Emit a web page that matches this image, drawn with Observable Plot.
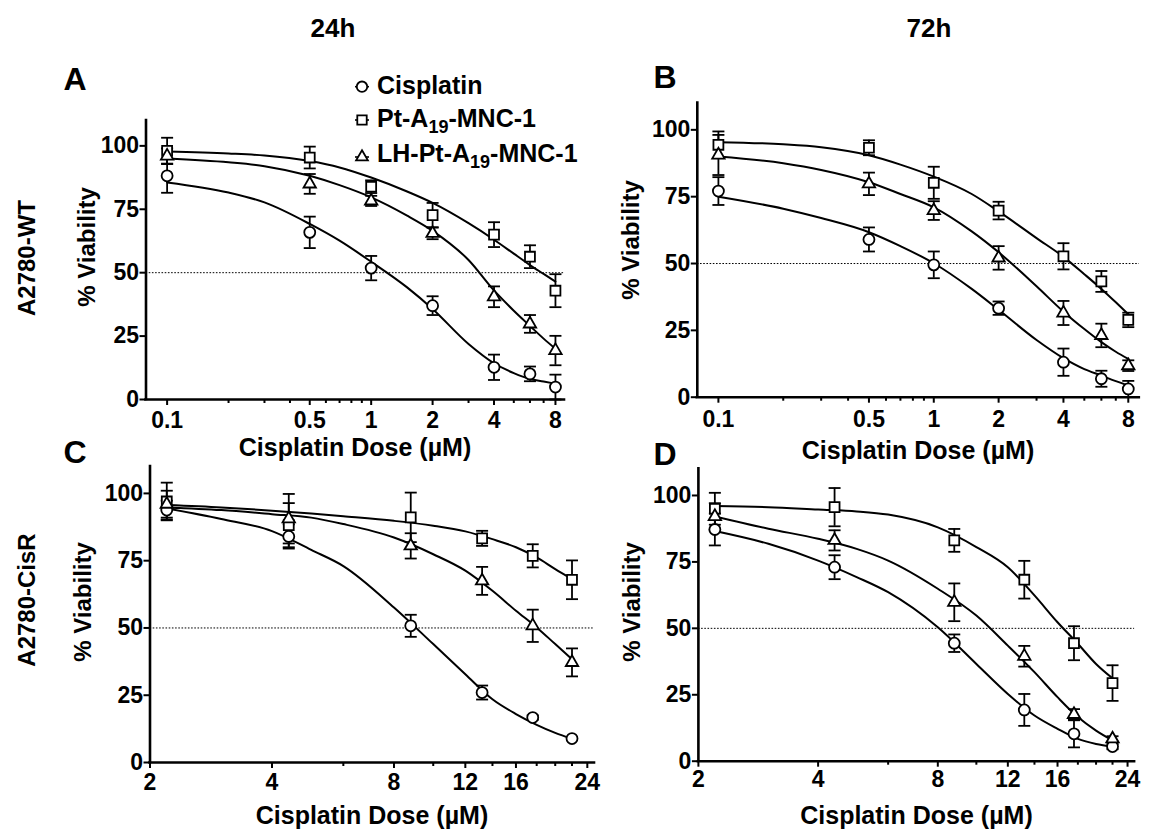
<!DOCTYPE html>
<html>
<head>
<meta charset="utf-8">
<script src="https://cdn.jsdelivr.net/npm/d3@7"></script>
<script src="https://cdn.jsdelivr.net/npm/@observablehq/plot@0.6"></script>
<style>
  html, body { margin: 0; padding: 0; background: #fff; }
  #page { position: relative; width: 1149px; height: 830px; overflow: hidden; background: #fff; }
  .panel { position: absolute; }
  #overlay { position: absolute; left: 0; top: 0; pointer-events: none; }
</style>
</head>
<body>
<div id="page"></div>
<script>
// ---------------- DATA ----------------
const compounds = ["Cisplatin", "Pt-A19-MNC-1", "LH-Pt-A19-MNC-1"];
const doseWT = [0.1, 0.5, 1, 2, 4, 6, 8];
const doseCisR = [2.2, 4.4, 8.8, 13.2, 17.6, 22];
const fitDoseWT = [0.1, 0.2, 0.3, 0.5, 0.7, 1, 1.5, 2, 3, 4, 5, 6, 7, 8];
const fitDoseCisR = [2.2, 3, 4, 5, 6, 8, 10, 12, 14, 16, 18, 20, 22];
const ticksWT = [0.1, 0.5, 1, 2, 4, 8];
const minorWT = [0.2, 0.3, 0.4, 0.6, 0.7, 0.8, 0.9, 3, 5, 6, 7];
const ticksCisR = [2, 4, 8, 12, 16, 24];
const minorCisR = [6, 10, 14, 18, 20, 22];
const ticksViability = [0, 25, 50, 75, 100];

// Panel A: A2780-WT, 24h
const A_cis = [88.2, 65.9, 51.8, 37.0, 12.7, 10.1, 4.9];
const A_cisSD = [6.7, 6.2, 4.8, 3.7, 5.0, 2.9, 4.9];
const A_pt = [98.0, 95.4, 83.9, 72.7, 65.0, 56.3, 42.9];
const A_ptSD = [5.2, 4.3, 2.5, 4.8, 4.9, 4.5, 6.5];
const A_lh = [96.0, 85.0, 78.3, 65.5, 40.5, 29.8, 19.3];
const A_lhSD = [3.0, 3.9, 2.0, 2.3, 4.1, 3.5, 5.8];
const A_cisFit = [85.6, 81.6, 77.7, 69.2, 62.6, 54.3, 44.2, 35.7, 21.9, 14.3, 10.4, 8.1, 7.1, 6.2];
const A_ptFit = [97.8, 97.0, 96.2, 94.0, 91.5, 87.5, 82.0, 77.5, 69.5, 63.0, 57.5, 53.0, 49.5, 46.5];
const A_lhFit = [95.0, 93.5, 92.0, 88.2, 84.5, 79.7, 72.5, 66.5, 55.0, 43.0, 35.0, 29.0, 24.0, 20.0];

// Panel B: A2780-WT, 72h
const B_cis = [77.1, 59.0, 49.5, 33.3, 13.1, 6.9, 3.1];
const B_cisSD = [5.2, 4.5, 5.0, 2.5, 5.1, 3.0, 3.0];
const B_pt = [94.4, 93.3, 80.2, 69.8, 52.7, 43.3, 28.9];
const B_ptSD = [5.0, 2.8, 6.0, 3.3, 4.9, 3.9, 2.7];
const B_lh = [90.6, 79.8, 69.8, 52.1, 31.5, 23.1, 11.8];
const B_lhSD = [7.5, 4.2, 3.5, 4.4, 4.5, 4.4, 2.0];
const B_cisFit = [75.0, 70.5, 67.0, 61.7, 56.5, 50.1, 40.5, 32.7, 21.4, 14.6, 10.5, 8.1, 6.0, 4.4];
const B_ptFit = [95.4, 94.6, 93.5, 90.5, 87.0, 82.5, 76.0, 69.5, 59.5, 52.5, 46.0, 40.5, 35.5, 31.0];
const B_lhFit = [90.0, 87.5, 85.0, 80.4, 76.0, 71.0, 62.0, 54.2, 41.5, 32.0, 25.5, 20.6, 17.0, 14.3];

// Panel C: A2780-CisR, 24h
const C_cis = [93.8, 84.0, 50.8, 26.0, 16.7, 8.9];
const C_cisSD = [3.5, 4.5, 4.1, 2.6, 0.8, 0.6];
const C_pt = [97.0, 88.2, 91.1, 83.3, 76.8, 67.9];
const C_ptSD = [7.0, 8.2, 9.2, 2.8, 4.3, 7.2];
const C_lh = [96.0, 90.6, 80.5, 67.5, 50.8, 37.2];
const C_lhSD = [5.0, 9.2, 4.7, 5.2, 6.0, 5.2];
const C_cisFit = [94.4, 90.5, 86.0, 79.0, 73.0, 57.6, 44.0, 32.8, 23.5, 18.0, 14.0, 11.0, 8.8];
const C_ptFit = [95.7, 94.8, 93.6, 92.5, 91.5, 89.8, 88.0, 85.9, 83.0, 80.0, 76.2, 71.9, 68.2];
const C_lhFit = [94.8, 93.8, 92.3, 91.0, 88.6, 83.6, 77.4, 71.3, 63.8, 56.4, 50.2, 44.0, 38.4];

// Panel D: A2780-CisR, 72h
const D_cis = [87.2, 73.0, 44.4, 19.3, 10.3, 5.5];
const D_cisSD = [6.0, 4.5, 3.3, 6.0, 5.1, 1.0];
const D_pt = [95.0, 95.6, 83.1, 68.3, 44.4, 29.4];
const D_ptSD = [6.0, 7.2, 4.3, 7.1, 6.4, 6.7];
const D_lh = [92.1, 83.1, 59.8, 39.5, 17.6, 8.4];
const D_lhSD = [5.0, 3.8, 7.1, 3.9, 2.0, 1.0];
const D_cisFit = [86.6, 81.8, 75.5, 69.3, 63.6, 50.4, 36.6, 25.3, 17.2, 12.2, 8.4, 6.5, 5.5];
const D_ptFit = [96.0, 95.6, 94.7, 94.0, 92.8, 88.0, 80.6, 73.0, 62.4, 52.3, 44.2, 36.6, 31.2];
const D_lhFit = [92.1, 87.5, 83.7, 79.9, 75.5, 64.9, 54.8, 43.5, 33.5, 24.1, 16.6, 11.5, 7.8];

// ---------------- LAYOUT / STYLE ----------------
const FONT = '"Liberation Sans", Arial, Helvetica, sans-serif';
const TICK_FONT = 23;
const symbolOf = {"Cisplatin": "circle", "Pt-A19-MNC-1": "square", "LH-Pt-A19-MNC-1": "triangle"};
const radiusOf = {"Cisplatin": 5.5, "Pt-A19-MNC-1": 5.6, "LH-Pt-A19-MNC-1": 4.6};
const capSymbol = {draw(ctx) { ctx.moveTo(-6, 0); ctx.lineTo(6, 0); }};

const panels = [
  {means: [A_cis, A_pt, A_lh], sds: [A_cisSD, A_ptSD, A_lhSD], fits: [A_cisFit, A_ptFit, A_lhFit],
   dose: doseWT, fitDose: fitDoseWT, ticks: ticksWT, minor: minorWT,
   layout: {left: 0, top: 0, width: 580, height: 470, ml: 145.5, mr: 16, mt: 120, mb: 71, xDomain: [0.0788, 8.86], tp: 6.5}},
  {means: [B_cis, B_pt, B_lh], sds: [B_cisSD, B_ptSD, B_lhSD], fits: [B_cisFit, B_ptFit, B_lhFit],
   dose: doseWT, fitDose: fitDoseWT, ticks: ticksWT, minor: minorWT,
   layout: {left: 580, top: 0, width: 569, height: 470, ml: 116.8, mr: 10.2, mt: 102.6, mb: 73.3, xDomain: [0.0798, 9.0], tp: 7}},
  {means: [C_cis, C_pt, C_lh], sds: [C_cisSD, C_ptSD, C_lhSD], fits: [C_cisFit, C_ptFit, C_lhFit],
   dose: doseCisR, fitDose: fitDoseCisR, ticks: ticksCisR, minor: minorCisR,
   layout: {left: 0, top: 440, width: 600, height: 390, ml: 149.5, mr: 6, mt: 26, mb: 68, xDomain: [2, 25], tp: 5}},
  {means: [D_cis, D_pt, D_lh], sds: [D_cisSD, D_ptSD, D_lhSD], fits: [D_cisFit, D_ptFit, D_lhFit],
   dose: doseCisR, fitDose: fitDoseCisR, ticks: ticksCisR, minor: minorCisR,
   layout: {left: 580, top: 440, width: 569, height: 390, ml: 117.9, mr: 14.9, mt: 28.4, mb: 69.3, xDomain: [2, 25], tp: 3}}
];

function makePanel(p) {
  const L = p.layout;
  const pts = compounds.flatMap((c, i) => p.dose.map((d, j) => ({compound: c, dose: d, v: p.means[i][j], e: p.sds[i][j]})));
  const fit = compounds.flatMap((c, i) => p.fitDose.map((d, j) => ({compound: c, dose: d, v: p.fits[i][j]})));
  const caps = pts.flatMap(d => [{dose: d.dose, y: d.v - d.e}, {dose: d.dose, y: d.v + d.e}]);
  const dotMarks = compounds.map(c => Plot.dot(pts.filter(d => d.compound === c), {
    x: "dose", y: "v", symbol: symbolOf[c], r: radiusOf[c], fill: "white", stroke: "black", strokeWidth: 1.8
  }));
  return Plot.plot({
    width: L.width, height: L.height,
    marginLeft: L.ml, marginRight: L.mr, marginTop: L.mt, marginBottom: L.mb,
    x: {type: "log", domain: L.xDomain},
    y: {domain: [0, 110]},
    style: {background: "transparent", fontFamily: FONT, fontSize: TICK_FONT + "px", fontWeight: "bold", color: "black", overflow: "visible", maxWidth: "none"},
    marks: [
      Plot.ruleY([50], {stroke: "black", strokeWidth: 1, strokeDasharray: "1.6,1.6"}),
      Plot.line(fit, {x: "dose", y: "v", z: "compound", curve: "monotone-x", stroke: "black", strokeWidth: 2}),
      Plot.ruleX(pts, {x: "dose", y1: d => d.v - d.e, y2: d => d.v + d.e, stroke: "black", strokeWidth: 1.8}),
      Plot.dot(caps, {x: "dose", y: "y", symbol: capSymbol, fill: "none", stroke: "black", strokeWidth: 1.8}),
      ...dotMarks,
      Plot.ruleY([0], {stroke: "black", strokeWidth: 2.6, strokeLinecap: "square"}),
      Plot.ruleX([L.xDomain[0]], {stroke: "black", strokeWidth: 2.6, strokeLinecap: "square"}),
      Plot.axisY(ticksViability, {tickSize: 6, tickPadding: 1, strokeWidth: 2, tickFormat: d => String(d), label: null}),
      Plot.axisX(p.ticks, {tickSize: 6, strokeWidth: 2, fill: "none", label: null}),
      Plot.axisX(p.minor, {tickSize: 4, strokeWidth: 2, fill: "none", label: null}),
      Plot.text(p.ticks, {x: d => d, frameAnchor: "bottom", lineAnchor: "top", dy: 6 + L.tp,
        text: d => String(d), fontSize: TICK_FONT, fontWeight: "bold", fill: "black"})
    ]
  });
}

const page = document.getElementById("page");
for (const p of panels) {
  const svg = makePanel(p);
  svg.classList.add("panel");
  svg.style.left = p.layout.left + "px";
  svg.style.top = p.layout.top + "px";
  page.appendChild(svg);
}

// ---------------- ANNOTATIONS ----------------
const headers = [{text: "24h", x: 333, y: 37}, {text: "72h", x: 929, y: 37}];
const letters = [{text: "A", x: 75, y: 90}, {text: "B", x: 665, y: 88}, {text: "C", x: 75, y: 463}, {text: "D", x: 665, y: 465}];
const rowLabels = [{text: "A2780-WT", x: 35, y: 258}, {text: "A2780-CisR", x: 35, y: 600}];
const yTitles = [{x: 94.5, y: 247}, {x: 639, y: 240}, {x: 91, y: 602}, {x: 639.5, y: 602}];
const xTitles = [{x: 355, y: 456}, {x: 918, y: 459}, {x: 372, y: 824}, {x: 916.5, y: 824}];
const legendRows = [
  {compound: "Cisplatin", sy: 86.7, ty: 94},
  {compound: "Pt-A19-MNC-1", sy: 120, ty: 127},
  {compound: "LH-Pt-A19-MNC-1", sy: 157, ty: 161.5}
];

const ov = d3.select(page).append("svg").attr("id", "overlay")
  .attr("width", 1149).attr("height", 830)
  .attr("font-family", FONT).attr("font-weight", "bold").attr("fill", "black");

ov.selectAll(".hdr").data(headers).join("text").attr("class", "hdr")
  .attr("x", d => d.x).attr("y", d => d.y).attr("font-size", 26).attr("text-anchor", "middle").text(d => d.text);
ov.selectAll(".ltr").data(letters).join("text").attr("class", "ltr")
  .attr("x", d => d.x).attr("y", d => d.y).attr("font-size", 32).attr("text-anchor", "middle").text(d => d.text);
ov.selectAll(".row").data(rowLabels).join("text").attr("class", "row")
  .attr("transform", d => `translate(${d.x},${d.y}) rotate(-90)`).attr("font-size", 24).attr("text-anchor", "middle").text(d => d.text);
ov.selectAll(".yt").data(yTitles).join("text").attr("class", "yt")
  .attr("transform", d => `translate(${d.x},${d.y}) rotate(-90)`).attr("font-size", 24).attr("text-anchor", "middle").text("% Viability");
ov.selectAll(".xt").data(xTitles).join("text").attr("class", "xt")
  .attr("x", d => d.x).attr("y", d => d.y).attr("font-size", 25).attr("text-anchor", "middle").text("Cisplatin Dose (\u00B5M)");

// legend
const symD3 = {circle: d3.symbolCircle, square: d3.symbolSquare, triangle: d3.symbolTriangle};
const lg = ov.selectAll(".lg").data(legendRows).join("g").attr("class", "lg");
lg.append("line").attr("x1", 355).attr("x2", 369).attr("y1", d => d.sy).attr("y2", d => d.sy)
  .attr("stroke", "black").attr("stroke-width", 1.6);
lg.append("path")
  .attr("transform", d => `translate(362,${d.sy})`)
  .attr("d", d => { const r = radiusOf[d.compound] * 0.95; return d3.symbol(symD3[symbolOf[d.compound]], Math.PI * r * r)(); })
  .attr("fill", "white").attr("stroke", "black").attr("stroke-width", 1.8);
lg.each(function(d) {
  const t = d3.select(this).append("text").attr("x", 377).attr("y", d.ty).attr("font-size", 25);
  const m = d.compound.match(/^(.*A)(19)(.*)$/);
  if (m) {
    t.append("tspan").text(m[1]);
    t.append("tspan").attr("dy", 6).attr("font-size", 18).text(m[2]);
    t.append("tspan").attr("dy", -6).text(m[3]);
  } else {
    t.text(d.compound);
  }
});
</script>
</body>
</html>
